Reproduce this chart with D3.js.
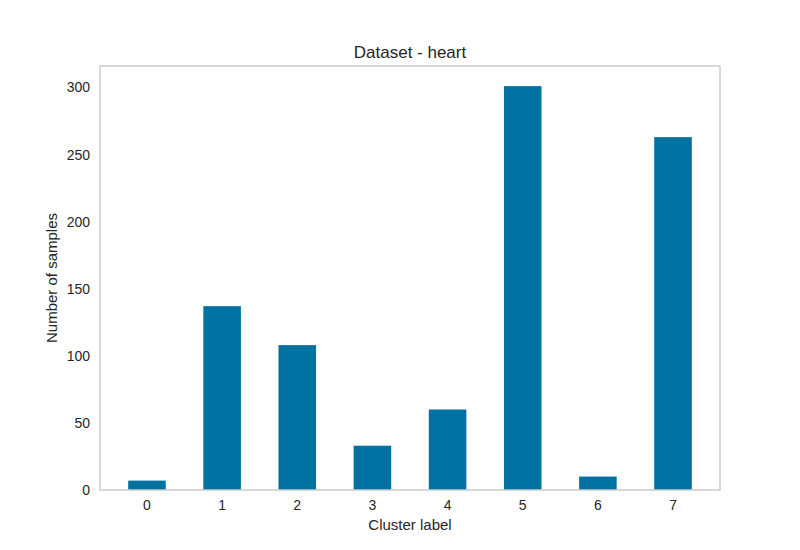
<html>
<head>
<script src="https://cdn.jsdelivr.net/npm/d3@7"></script>
<style>
body { margin: 0; background: white; }
text { font-family: "Liberation Sans", Arial, sans-serif; fill: #262626; }
</style>
</head>
<body>
<div id="chart"></div>
<script>
var labels = ["0", "1", "2", "3", "4", "5", "6", "7"];
var counts = [7, 137, 108, 33, 60, 301, 10, 263];
var yTicks = [0, 50, 100, 150, 200, 250, 300];

var w = 800, h = 550;
var pLeft = 100, pRight = 720, pTop = 66, pBottom = 490;

var svg = d3.select("#chart").append("svg").attr("width", w).attr("height", h);

var x = d3.scaleLinear().domain([-0.625, labels.length - 1 + 0.625]).range([pLeft, pRight]);
var y = d3.scaleLinear().domain([0, 316]).range([pBottom, pTop]);
var bw = (x(1) - x(0)) * 0.5;

svg.selectAll(".bar").data(counts).enter().append("rect")
  .attr("x", function(d, i) { return x(i) - bw / 2; })
  .attr("y", function(d) { return y(d); })
  .attr("width", bw)
  .attr("height", function(d) { return y(0) - y(d); })
  .attr("fill", "#0072a2");

svg.append("rect").attr("x", pLeft).attr("y", pTop)
  .attr("width", pRight - pLeft).attr("height", pBottom - pTop)
  .attr("fill", "none").attr("stroke", "#cccccc").attr("stroke-width", 1.5);

svg.selectAll(".xt").data(labels).enter().append("text")
  .attr("x", function(d, i) { return x(i); }).attr("y", pBottom + 20)
  .attr("text-anchor", "middle").attr("font-size", 14).text(function(d) { return d; });

svg.selectAll(".yt").data(yTicks).enter().append("text")
  .attr("x", pLeft - 10).attr("y", function(d) { return y(d) + 5; })
  .attr("text-anchor", "end").attr("font-size", 14).text(function(d) { return d; });

svg.append("text").attr("x", (pLeft + pRight) / 2).attr("y", 530)
  .attr("text-anchor", "middle").attr("font-size", 15).text("Cluster label");
svg.append("text").attr("transform", "translate(57," + (pTop + pBottom) / 2 + ") rotate(-90)")
  .attr("text-anchor", "middle").attr("font-size", 15).text("Number of samples");
svg.append("text").attr("x", (pLeft + pRight) / 2).attr("y", 58)
  .attr("text-anchor", "middle").attr("font-size", 17).text("Dataset - heart");
</script>
</body>
</html>
